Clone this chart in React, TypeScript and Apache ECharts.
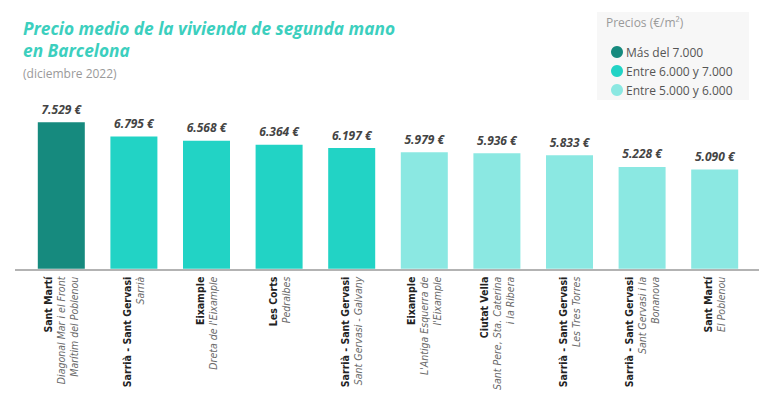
import React, { useEffect, useRef } from "react";
import * as echarts from "echarts";

const districts = [
  "Sant Martí",
  "Sarrià - Sant Gervasi",
  "Eixample",
  "Les Corts",
  "Sarrià - Sant Gervasi",
  "Eixample",
  "Ciutat Vella",
  "Sarrià - Sant Gervasi",
  "Sarrià - Sant Gervasi",
  "Sant Martí",
];
const neighborhoods = [
  ["Diagonal Mar i el Front", "Marítim del Poblenou"],
  ["Sarrià"],
  ["Dreta de l'Eixample"],
  ["Pedralbes"],
  ["Sant Gervasi - Galvany"],
  ["L'Antiga Esquerra de", "l'Eixample"],
  ["Sant Pere, Sta. Caterina", "i la Ribera"],
  ["Les Tres Torres"],
  ["Sant Gervasi i la", "Bonanova"],
  ["El Poblenou"],
];
const prices = [7529, 6795, 6568, 6364, 6197, 5979, 5936, 5833, 5228, 5090];
const classNames = ["Más del 7.000", "Entre 6.000 y 7.000", "Entre 5.000 y 6.000"];
const classColors = ["#168a7e", "#22d3c5", "#8be8e2"];
const classOf = (v: number) => (v > 7000 ? 0 : v > 6000 ? 1 : 2);

const fmt = (v: number) => {
  const s = String(Math.round(v));
  return s.replace(/\B(?=(\d{3})+(?!\d))/g, ".") + " €";
};

const labelFont = "'DejaVu Sans Condensed', Roboto, sans-serif";

export default function App() {
  const ref = useRef<HTMLDivElement>(null);
  useEffect(() => {
    if (!ref.current) return;
    const chart = echarts.init(ref.current, undefined, { renderer: "svg" });
    const categories = districts.map((d, i) => d + " / " + neighborhoods[i].join(" "));
    const series = classNames.map((name, c) => ({
      name,
      type: "bar",
      stack: "all",
      barWidth: 47,
      itemStyle: { color: classColors[c] },
      data: prices.map((v) => (classOf(v) === c ? v : "-")),
      label: {
        show: true,
        position: "top",
        distance: 7,
        formatter: (p: any) => fmt(p.value),
        fontFamily: "Open Sans",
        fontWeight: "bold",
        fontStyle: "italic",
        fontSize: 12,
        color: "#444",
      },
    }));
    chart.setOption({
      animation: false,
      backgroundColor: "#fff",
      title: {
        text: "Precio medio de la vivienda de segunda mano\nen Barcelona",
        left: 18,
        top: 12,
        textStyle: {
          fontFamily: "Open Sans",
          fontWeight: "bold",
          fontStyle: "italic",
          fontSize: 17.3,
          lineHeight: 22,
          color: "#3ccfbe",
        },
        subtext: "(diciembre 2022)",
        subtextStyle: { fontFamily: "Open Sans", fontSize: 12, color: "#9a9a9a" },
        itemGap: 6,
      },
      legend: {
        orient: "vertical",
        left: 606,
        top: 41,
        icon: "circle",
        itemWidth: 12,
        itemHeight: 12,
        itemGap: 7,
        selectedMode: false,
        data: classNames,
        textStyle: { fontFamily: "Open Sans", fontSize: 12, color: "#555", padding: [0, 0, 0, -2] },
      },
      graphic: [
        {
          type: "rect",
          z: -1,
          shape: { x: 597, y: 12, width: 152, height: 88 },
          style: { fill: "#f7f7f7" },
        },
        {
          type: "text",
          x: 606,
          y: 16,
          style: { text: "Precios (€/m²)", fontFamily: "Open Sans", fontSize: 12, fill: "#9a9a9a" },
        },
        {
          type: "line",
          shape: { x1: 15, y1: 270, x2: 759, y2: 270 },
          style: { stroke: "#b3b3b3", lineWidth: 2 },
        },
      ],
      grid: { left: 25, right: 17, top: 113, bottom: 123 },
      xAxis: {
        type: "category",
        data: categories,
        axisLine: { show: false },
        axisTick: { show: false },
        axisLabel: {
          rotate: 90,
          margin: 8,
          interval: 0,
          formatter: (_: string, i: number) =>
            [`{b|${districts[i]}}`, ...neighborhoods[i].map((n) => `{i|${n}}`)].join("\n"),
          rich: {
            b: {
              fontFamily: labelFont,
              fontWeight: "bold",
              fontSize: 10.5,
              color: "#222",
              lineHeight: 13,
            },
            i: {
              fontFamily: labelFont,
              fontStyle: "italic",
              fontSize: 10.5,
              color: "#6a6a6a",
              lineHeight: 13,
            },
          },
        },
      },
      yAxis: { type: "value", min: 0, max: 8000, show: false },
      series,
    });
    return () => chart.dispose();
  }, []);
  return (
    <div
      ref={ref}
      style={{ position: "fixed", left: 0, top: 0, width: 768, height: 393 }}
    />
  );
}
